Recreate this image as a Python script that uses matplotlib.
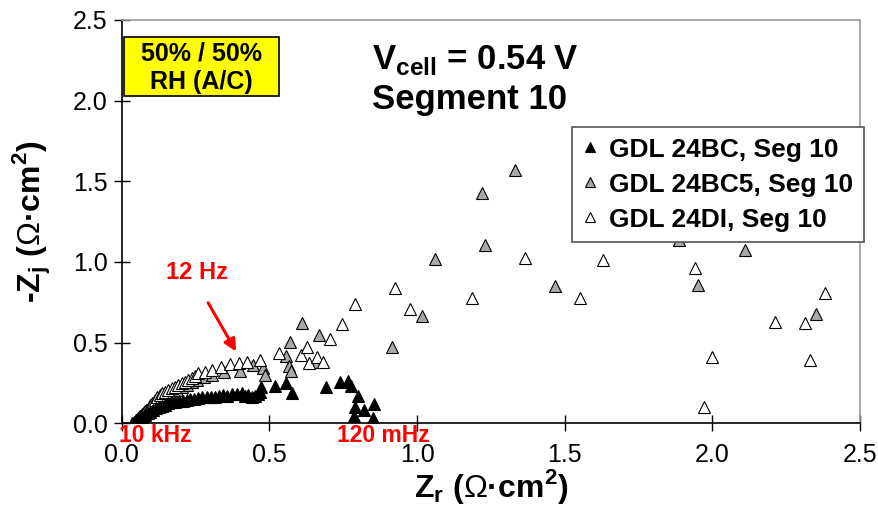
import matplotlib
matplotlib.use("Agg")
import matplotlib.pyplot as plt
from matplotlib.patches import Rectangle

plt.rcParams["font.family"] = ["Liberation Sans", "DejaVu Sans"]
plt.rcParams["mathtext.fontset"] = "custom"
plt.rcParams["mathtext.rm"] = "Liberation Sans"
plt.rcParams["mathtext.bf"] = "Liberation Sans:bold"

# GDL 24BC, segment 10
bc_zr = [0.035, 0.040, 0.045, 0.050, 0.055, 0.062, 0.070, 0.079, 0.088, 0.096,
         0.106, 0.116, 0.126, 0.136, 0.147, 0.158, 0.170, 0.181, 0.194, 0.207,
         0.220, 0.232, 0.246, 0.260, 0.273, 0.288, 0.302, 0.316, 0.330, 0.344,
         0.358, 0.373, 0.390, 0.407, 0.418, 0.429, 0.441, 0.452, 0.462, 0.469,
         0.471, 0.520, 0.557, 0.578, 0.693, 0.738, 0.765, 0.776, 0.799, 0.853,
         0.791, 0.821, 0.785, 0.851]
bc_zj = [0.000, 0.005, 0.010, 0.018, 0.025, 0.031, 0.040, 0.051, 0.062, 0.072,
         0.082, 0.093, 0.100, 0.107, 0.115, 0.124, 0.129, 0.134, 0.137, 0.140,
         0.145, 0.149, 0.152, 0.159, 0.160, 0.165, 0.163, 0.165, 0.170, 0.175,
         0.172, 0.181, 0.183, 0.190, 0.172, 0.175, 0.165, 0.171, 0.180, 0.196,
         0.223, 0.233, 0.250, 0.190, 0.223, 0.253, 0.264, 0.229, 0.169, 0.119,
         0.101, 0.082, 0.045, 0.034]

# GDL 24BC5, segment 10
bc5_zr = [0.040, 0.045, 0.050, 0.056, 0.062, 0.068, 0.075, 0.083, 0.091, 0.100,
          0.110, 0.120, 0.131, 0.143, 0.156, 0.170, 0.186, 0.203, 0.220, 0.237,
          0.254, 0.280, 0.305, 0.347, 0.399, 0.446, 0.478, 0.486, 0.557, 0.565,
          0.573, 0.571, 0.612, 0.669, 0.659, 0.914, 1.018, 1.060, 1.230, 1.220,
          1.331, 1.468, 1.887, 1.951, 2.111, 2.350]
bc5_zj = [0.000, 0.010, 0.020, 0.032, 0.045, 0.058, 0.070, 0.083, 0.095, 0.108,
          0.120, 0.133, 0.145, 0.158, 0.172, 0.188, 0.205, 0.222, 0.240, 0.255,
          0.270, 0.285, 0.300, 0.318, 0.326, 0.361, 0.341, 0.297, 0.419, 0.358,
          0.322, 0.501, 0.620, 0.547, 0.378, 0.475, 0.667, 1.017, 1.105, 1.426,
          1.573, 0.851, 1.137, 0.857, 1.072, 0.676]

# GDL 24DI, segment 10
di_zr = [0.040, 0.046, 0.051, 0.057, 0.062, 0.068, 0.074, 0.080, 0.085, 0.091,
         0.096, 0.104, 0.113, 0.121, 0.130, 0.138, 0.147, 0.158, 0.169, 0.180,
         0.192, 0.203, 0.215, 0.226, 0.237, 0.249, 0.260, 0.283, 0.305, 0.335,
         0.367, 0.396, 0.424, 0.467, 0.534, 0.607, 0.627, 0.633, 0.661, 0.681,
         0.707, 0.746, 0.790, 0.925, 0.975, 1.186, 1.364, 1.553, 1.630, 1.942,
         1.972, 1.998, 2.213, 2.313, 2.331, 2.380]
di_zj = [0.000, 0.010, 0.020, 0.036, 0.046, 0.051, 0.066, 0.075, 0.082, 0.097,
         0.113, 0.128, 0.144, 0.160, 0.175, 0.186, 0.196, 0.207, 0.217, 0.227,
         0.237, 0.247, 0.258, 0.268, 0.279, 0.294, 0.310, 0.318, 0.330, 0.350,
         0.368, 0.372, 0.378, 0.392, 0.434, 0.423, 0.471, 0.376, 0.413, 0.380,
         0.521, 0.615, 0.740, 0.839, 0.709, 0.779, 1.027, 0.779, 1.012, 0.965,
         0.103, 0.409, 0.626, 0.620, 0.392, 0.810]

series_labels = ["GDL 24BC, Seg 10", "GDL 24BC5, Seg 10", "GDL 24DI, Seg 10"]
x_ticks = [0.0, 0.5, 1.0, 1.5, 2.0, 2.5]
y_ticks = [0.0, 0.5, 1.0, 1.5, 2.0, 2.5]

fig = plt.figure(figsize=(8.79, 5.05), dpi=100)
ax = fig.add_axes([121.7 / 879, 1 - 423.3 / 505, (860 - 121.7) / 879, (423.3 - 20) / 505])

ms = 9
ax.plot(bc_zr, bc_zj, ls="none", marker="^", ms=ms, mfc="black", mec="black",
        mew=0.8, label=series_labels[0], zorder=4)
ax.plot(bc5_zr, bc5_zj, ls="none", marker="^", ms=ms, mfc="#a9a9a9", mec="black",
        mew=0.8, label=series_labels[1], zorder=3)
ax.plot(di_zr, di_zj, ls="none", marker="^", ms=ms, mfc="white", mec="black",
        mew=0.8, label=series_labels[2], zorder=3)

ax.set_xlim(0, 2.5)
ax.set_ylim(0, 2.5)
ax.set_xticks(x_ticks)
ax.set_yticks(y_ticks)
ax.set_xticklabels([f"{v:.1f}" for v in x_ticks])
ax.set_yticklabels([f"{v:.1f}" for v in y_ticks])
ax.tick_params(direction="inout", length=12, width=1, labelsize=18)
ax.tick_params(axis="x", pad=8)
ax.tick_params(axis="y", pad=4)

for side in ("left", "bottom"):
    ax.spines[side].set_color("black")
    ax.spines[side].set_linewidth(1.2)
for side in ("top", "right"):
    ax.spines[side].set_color("#9a9a9a")
    ax.spines[side].set_linewidth(1.2)

ax.set_xlabel(r"Z$_\mathbf{r}$ ($\Omega$·cm$^\mathbf{2}$)", fontsize=23, fontweight="bold", labelpad=0)
ax.set_ylabel(r"-Z$_\mathbf{j}$ ($\Omega$·cm$^\mathbf{2}$)", fontsize=23, fontweight="bold", labelpad=14)

# condition box
ax.add_patch(Rectangle((0.008, 2.029), 0.525, 0.366, facecolor="#ffff00",
                       edgecolor="black", lw=1.2, zorder=5))
ax.text(0.27, 2.295, "50% / 50%", ha="center", va="center", fontsize=18,
        fontweight="bold", zorder=6)
ax.text(0.27, 2.115, "RH (A/C)", ha="center", va="center", fontsize=18,
        fontweight="bold", zorder=6)

ax.text(0.848, 2.255, r"V$_\mathbf{cell}$ = 0.54 V", ha="left", va="center",
        fontsize=25, fontweight="bold")
ax.text(0.848, 2.01, "Segment 10", ha="left", va="center", fontsize=25,
        fontweight="bold")

# frequency annotations
ax.annotate("", xy=(0.392, 0.43), xytext=(0.288, 0.762),
            arrowprops=dict(arrowstyle="-|>", color="red", lw=2.2, mutation_scale=18))
ax.text(0.256, 0.935, "12 Hz", color="red", ha="center", va="center",
        fontsize=17, fontweight="bold")
ax.text(0.113, -0.075, "10 kHz", color="red", ha="center", va="center",
        fontsize=16.5, fontweight="bold", clip_on=False)
ax.text(0.886, -0.075, "120 mHz", color="red", ha="center", va="center",
        fontsize=16.5, fontweight="bold", clip_on=False)

leg = ax.legend(loc="upper right", bbox_to_anchor=(864 / 879, 1 - 127 / 505),
                bbox_transform=fig.transFigure, borderaxespad=0, fancybox=False,
                framealpha=1, edgecolor="#555555", prop=dict(size=19, weight="bold"),
                markerscale=0.8, handlelength=0.5, handletextpad=0.5,
                labelspacing=0.42, borderpad=0.4)
leg.get_frame().set_linewidth(1.2)
leg.set_zorder(10)

fig.savefig("out.png", dpi=100)
